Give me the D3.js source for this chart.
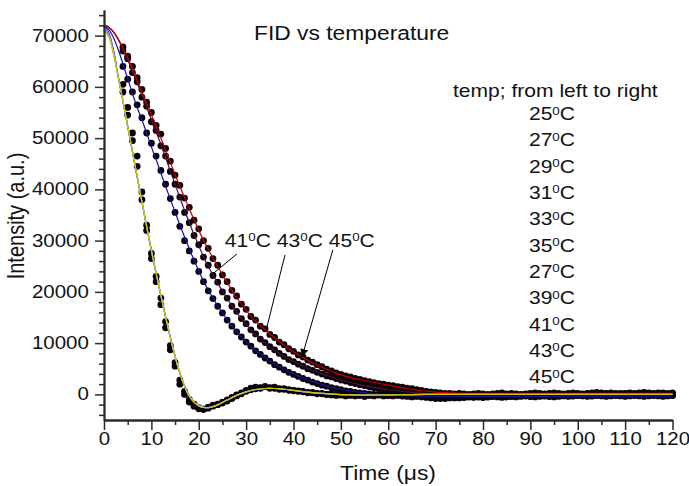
<!DOCTYPE html>
<html>
<head>
<meta charset="utf-8">
<script src="https://cdn.jsdelivr.net/npm/d3@7"></script>
<style>
  body { margin: 0; background: #fff; }
  svg { display: block; }
  text { font-family: "Liberation Sans", Arial, sans-serif; fill: #111; }
</style>
</head>
<body>
<svg id="chart" width="689" height="486"></svg>
<script>
// fit curves, sampled at fitT (time in us)
var fitT = [0,1,2,3,4,5,6,7,8,9,10,11,12,13,14,15,16,17,18,19,20,21,22,23,24,
            26,28,30,32,34,36,38,40,42,44,46,48,50,55,60,65,70,75,80,90,100,110,120];

var fitFast = [71000,69800,66400,62000,57200,52300,47400,42500,37600,32800,28100,23600,19300,15100,11100,7400,4200,1600,-300,-1500,-2200,-2550,-2600,-2400,-2050,
               -1100,-200,500,950,1150,1150,1000,780,550,350,180,50,-50,-150,-100,-50,0,0,0,0,0,0,0];
// the fast (25-39 C) fits only differ over the first few points
var fastStarts = [[72000,70600,67200],[71800,70400,67000],[71200,69900,66500],[71600,70200,66800],[71000,69800,66400]];
var fastColors = ['#2a2aff', '#ff00ff', '#22b022', '#3fb6ff', '#d9c400'];

var fit41 = [71900,71200,69600,67300,64500,61600,58700,56000,53600,51000,48300,45800,43200,40600,38100,35600,33100,30700,28400,26200,24100,22100,20400,18800,17300,
             14600,12300,10300,8600,7200,5900,4900,4000,3200,2500,1900,1400,1000,300,-100,-300,-400,-400,-400,-400,-400,-400,-400];
var fit43 = [72000,71600,70700,69200,67300,65300,63100,60800,58400,56000,53600,51200,48800,46200,43600,41000,38400,35900,33500,31200,29000,26900,25000,23300,21700,
             18700,16000,13600,11600,10000,8600,7400,6400,5500,4700,4000,3400,2800,1700,900,400,100,0,0,0,0,0,0];
var fit45 = [72100,71700,70800,69400,67600,65700,63600,61300,59000,56800,54500,52300,50000,47600,45300,42900,40600,38400,36200,34100,32000,30100,28300,26600,25000,
             21800,18900,16400,14300,12600,11000,9600,8300,7200,6200,5300,4500,3800,2700,1800,1000,450,250,200,200,200,200,200];

// measured points, one every 1 us from t = 4 to 120
var dotT = d3.range(4, 121);

var dotsFastA = [60500,56000,51000,46500,39500,33000,27500,23000,18800,14200,
  9500,6200,2800,600,-1000,-1900,-2600,-2900,-2700,-2300,
  -2000,-1700,-1300,-800,-300,100,600,900,1400,1200,
  1500,1300,1400,1100,1100,900,800,700,600,400,
  400,200,200,0,100,-100,-100,-200,0,-200,
  -100,-300,-100,-200,0,-200,-100,
  0,100,0,-100,0,-200,-100,0,-100,-300,
  -400,-500,-400,-300,-200,-300,-200,-100,-200,-300,
  -200,-100,0,-100,-200,-300,-200,-100,0,-100,
  -200,-100,0,100,0,-100,0,100,0,-100,
  0,100,200,100,0,100,0,-100,0,100,
  200,100,0,100,200,100,0,100,0,100];

var dotsFastB = [59000,54500,49500,44500,38000,32000,26500,22000,17500,13000,
  8700,5500,2000,0,-1500,-2300,-2800,-2900,-2500,-2100,
  -1900,-1500,-1100,-600,-100,300,800,1200,1100,1300,
  1500,1200,1200,1000,1000,800,700,600,500,300,
  300,100,100,0,-100,-200,-100,-300,-200,-300,
  -200,-400,-200,-300,-100,-300,-200,
  -200,-100,-300,-200,-400,-300,-200,-400,-500,-600,
  -800,-700,-600,-700,-500,-600,-500,-400,-500,-600,
  -500,-400,-300,-400,-500,-400,-300,-200,-300,-400,
  -300,-200,-300,-400,-300,-200,-100,-200,-300,-200,
  -100,-200,-300,-200,-100,0,-100,-200,-100,0,
  -100,-200,-100,0,-100,-200,-100,0,-100,-200];

var dots41 = [64000,61500,59000,56500,54000,51000,49000,46500,43700,41000,
  38200,35500,32800,30000,28000,26000,24000,22000,20200,18700,
  17200,15900,14500,13300,12200,11200,10200,9400,8500,7800,
  7100,6500,5800,5300,4800,4300,3900,3500,3100,2800,
  2400,2100,1800,1600,1300,1100,900,700,600,400,
  300,200,100,0,-100,-100,-200,
  -300,-200,-300,-400,-500,-400,-500,-600,-700,-800,
  -700,-800,-700,-600,-700,-600,-500,-600,-500,-600,
  -500,-400,-500,-600,-500,-400,-500,-400,-300,-400,
  -500,-400,-300,-400,-500,-400,-300,-400,-300,-200,
  -300,-400,-300,-200,-300,-400,-300,-200,-300,-400,
  -300,-200,-300,-400,-300,-200,-300,-400,-300,-200];

var dots43 = [67000,65500,62800,61000,58000,56200,53200,51500,48500,46500,
  43500,41000,38500,35500,33500,31000,29200,26800,25200,23200,
  21900,20000,18800,17200,16200,14800,13800,12600,11800,10800,
  10100,9300,8700,8000,7400,6800,6400,5900,5500,5000,
  4700,4300,4000,3600,3400,3100,2800,2600,2300,2100,
  1900,1700,1500,1300,1100,1000,900,
  800,700,600,500,400,300,200,100,0,-100,
  -200,-300,-200,-300,-400,-300,-200,-300,-200,-100,
  -200,-300,-200,-100,0,-100,-200,-100,0,100,
  0,-100,0,100,0,-100,0,100,200,100,
  0,100,0,-100,0,100,0,100,200,100,
  0,100,0,-100,0,100,200,100,0,100];

var dots45 = [67800,66000,64000,61800,59500,57000,55000,52500,50800,48000,
  45500,42800,40800,38300,36500,34000,32300,30000,28500,26500,
  25200,23300,22000,20300,19200,17600,16600,15200,14500,13300,
  12800,11700,11100,10200,9700,8900,8400,7700,7300,6700,
  6300,5800,5400,4900,4600,4200,3900,3600,3400,3100,
  2900,2700,2500,2300,2100,2000,1800,
  1700,1500,1400,1200,1100,900,800,600,500,400,
  300,200,200,100,200,100,0,100,200,100,
  0,100,200,300,100,200,100,0,100,200,
  300,200,100,200,300,200,100,200,300,200,
  100,200,300,400,300,200,300,200,100,200,
  300,200,300,400,300,200,300,300,200,300];

var legendTemps = ['25','27','29','31','33','35','27','39','41','43','45'];
var xTicks = d3.range(0, 121, 10), xMinor = d3.range(5, 120, 10);
var yTicks = d3.range(0, 70001, 10000), yMinor = d3.range(-4000, 75000, 2000).filter(d => d % 10000 != 0);

// annotation arrows (data units)
var arrowFrom = [[28.05, 27400], [38.2, 27200], [48.3, 28200]];
var arrowTo = [[23.2, 23700], [34.3, 12800], [41.8, 7300]];
var arrowHead = [false, false, true];

var svg = d3.select("#chart");
var sx = 1.17; // the reference text is a little wide

var x = d3.scaleLinear().domain([0, 120]).range([104, 672.5]);
var y = d3.scaleLinear().domain([-5000, 75000]).range([420, 10]);

svg.append("defs").append("marker")
    .attr("id", "head").attr("viewBox", "0 0 10 10")
    .attr("refX", 10).attr("refY", 5)
    .attr("markerWidth", 8).attr("markerHeight", 8)
    .attr("markerUnits", "userSpaceOnUse").attr("orient", "auto")
    .append("path").attr("d", "M0,0 L10,5 L0,10 z").attr("fill", "#000");

// dots
var dotSets = [dotsFastB, dotsFastA, dots41, dots43, dots45];
var gDots = svg.append("g");
dotSets.forEach(function(vals) {
    gDots.append("g").selectAll("circle")
        .data(vals)
        .join("circle")
        .attr("cx", (d, i) => x(dotT[i]))
        .attr("cy", d => y(d))
        .attr("r", 3.4)
        .attr("fill", "#0c0008");
});

// fits
var line = d3.line()
    .x(d => x(d[0]))
    .y(d => y(d[1]))
    .curve(d3.curveCatmullRom.alpha(0.5));

function drawFit(vals, color) {
    svg.append("path")
        .datum(fitT.map((t, i) => [t, vals[i]]))
        .attr("d", line)
        .attr("fill", "none")
        .attr("stroke", color)
        .attr("stroke-width", 1.2);
}
drawFit(fit43, "#4a1040");
drawFit(fit45, "#c00000");
drawFit(fit41, "#1212a8");
fastStarts.forEach(function(s, k) {
    drawFit(s.concat(fitFast.slice(3)), fastColors[k]);
});

// axes
var axisColor = "#2b2b2b";
function styleAxis(g) {
    g.selectAll(".domain").attr("stroke", axisColor).attr("stroke-width", 1.8);
    g.selectAll(".tick line").attr("stroke", axisColor).attr("stroke-width", 1.5);
    g.selectAll(".tick text")
        .style("font-family", '"Liberation Sans", Arial, sans-serif')
        .style("font-size", "17.5px")
        .attr("fill", "#111")
        .attr("transform", "scale(" + sx + ",1)");
}

svg.append("g").attr("transform", "translate(0,420)")
    .call(d3.axisBottom(x).tickValues(xMinor).tickSize(5).tickFormat("").tickSizeOuter(0))
    .call(styleAxis);
svg.append("g").attr("transform", "translate(0,420)")
    .call(d3.axisBottom(x).tickValues(xTicks).tickSize(10).tickPadding(3).tickSizeOuter(0))
    .call(styleAxis);

svg.append("g").attr("transform", "translate(104,0)")
    .call(d3.axisLeft(y).tickValues(yMinor).tickSize(5).tickFormat("").tickSizeOuter(0))
    .call(styleAxis);
svg.append("g").attr("transform", "translate(104,0)")
    .call(d3.axisLeft(y).tickValues(yTicks).tickSize(9).tickPadding(4).tickFormat(d3.format("d")).tickSizeOuter(0))
    .call(styleAxis);

// titles
svg.append("text")
    .attr("transform", "translate(254,40) scale(" + sx + ",1)")
    .style("font-size", "19.5px")
    .text("FID vs temperature");

svg.append("text")
    .attr("transform", "translate(388,480) scale(" + sx + ",1)")
    .attr("text-anchor", "middle")
    .style("font-size", "19.5px")
    .text("Time (\u03bcs)");

svg.append("text")
    .attr("transform", "translate(23.5,216) rotate(-90) scale(1," + sx + ")")
    .attr("text-anchor", "middle")
    .style("font-size", "20px")
    .text("Intensity (a.u.)");

// legend text
svg.append("text")
    .attr("transform", "translate(453,97) scale(" + sx + ",1)")
    .style("font-size", "18px")
    .text("temp; from left to right");

function degLabel(sel, t) {
    sel.append("tspan").text(t);
    sel.append("tspan").attr("dy", -5.5).style("font-size", "11.5px").text("0");
    sel.append("tspan").attr("dy", 5.5).text("C");
}

legendTemps.forEach(function(t, i) {
    var tx = svg.append("text")
        .attr("transform", "translate(552," + (120 + i * 26.33) + ") scale(" + sx + ",1)")
        .attr("text-anchor", "middle")
        .style("font-size", "18px");
    degLabel(tx, t);
});

// annotation
var ann = svg.append("text")
    .attr("transform", "translate(" + x(25.5) + "," + y(28800) + ") scale(" + sx + ",1)")
    .style("font-size", "18px");
["41", "43", "45"].forEach(function(t, i) {
    if (i > 0) ann.append("tspan").text(" ");
    degLabel(ann, t);
});

arrowFrom.forEach(function(p, i) {
    svg.append("line")
        .attr("x1", x(p[0])).attr("y1", y(p[1]))
        .attr("x2", x(arrowTo[i][0])).attr("y2", y(arrowTo[i][1]))
        .attr("stroke", "#000").attr("stroke-width", 1)
        .attr("marker-end", arrowHead[i] ? "url(#head)" : null);
});
</script>
</body>
</html>
